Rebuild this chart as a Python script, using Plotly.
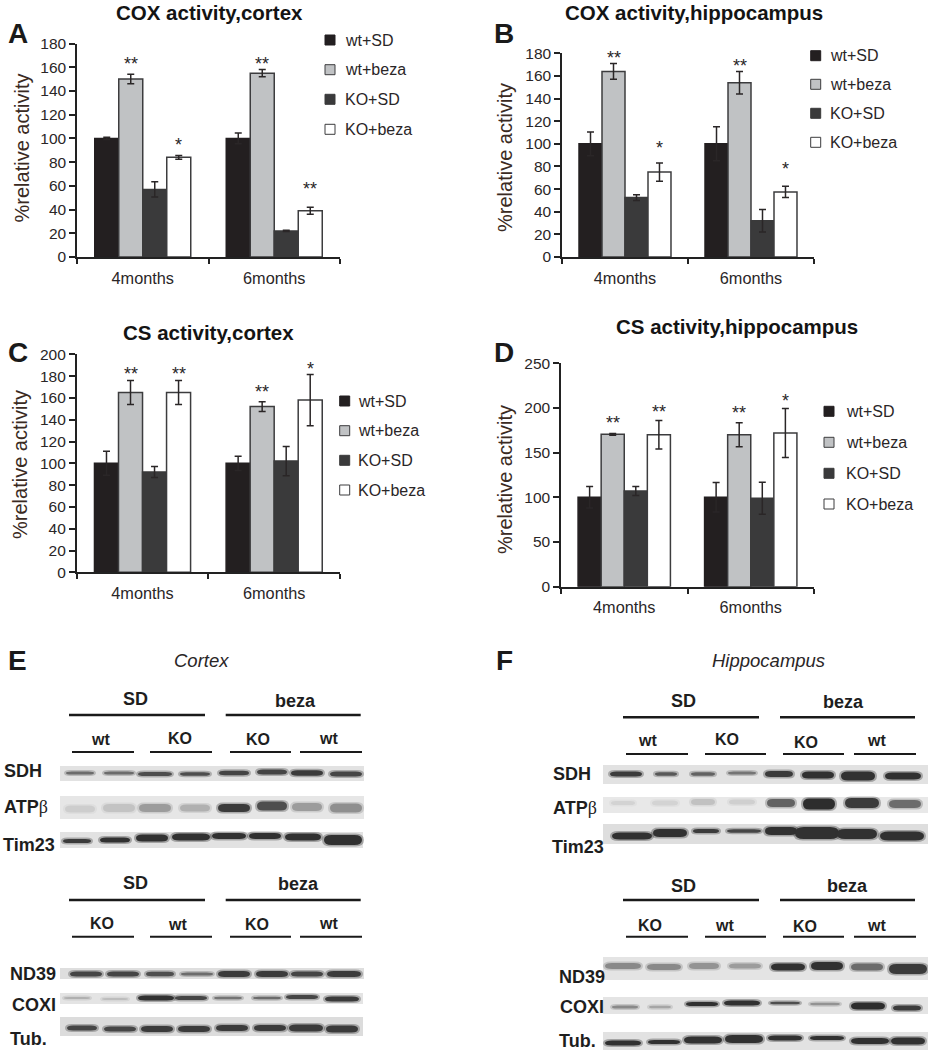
import plotly.graph_objects as go

W, H = 928, 1050
FONT = 'Liberation Sans'
INK = '#2a2627'

# bar data
groups = ['4months', '6months']
series = ['wt+SD', 'wt+beza', 'KO+SD', 'KO+beza']
fills = ['#231f20', '#c0c2c4', '#3a3a3b', '#ffffff']
edges = ['#231f20', '#3c3c3e', '#3a3a3b', '#3c3c3e']

a_vals = [[100, 100], [150, 155], [57, 22], [84, 39]]
a_errs = [[1, 4.5], [4, 3], [6.5, 0.5], [1.5, 3]]
a_stars = [['', ''], ['**', '**'], ['', ''], ['*', '**']]
a_star_y = [[0, 0], [166, 166], [0, 0], [98, 60.5]]

b_vals = [[100, 100], [164, 154], [52.5, 32], [75, 57.5]]
b_errs = [[10.5, 15], [7, 10], [2.5, 10], [8, 5]]
b_stars = [['', ''], ['**', '**'], ['', ''], ['*', '*']]
b_star_y = [[0, 0], [179, 172], [0, 0], [100, 81]]

c_vals = [[100, 100], [165, 152], [92, 102], [165, 158]]
c_errs = [[11, 6.5], [11, 4.5], [5, 13.5], [11, 23.5]]
c_stars = [['', ''], ['**', '**'], ['', ''], ['**', '*']]
c_star_y = [[0, 0], [185.6, 169], [0, 0], [185.6, 190]]

d_vals = [[100, 100], [170.5, 170], [107, 99], [170, 172]]
d_errs = [[12, 16.5], [1, 13.5], [5, 18], [16, 27.5]]
d_stars = [['', ''], ['**', '**'], ['', ''], ['**', '*']]
d_star_y = [[0, 0], [187.6, 199], [0, 0], [200, 212]]

# blot band readings, one row per antibody, one value per lane
e_dark = [[.6, .6, .75, .75, .8, .8, .85, .8],
          [.1, .15, .35, .25, .85, .75, .35, .42],
          [.85, .9, .9, .9, .9, .9, .9, .9],
          [.8, .8, .75, .6, .85, .85, .8, .85],
          [.25, .18, .9, .8, .55, .6, .8, .85],
          [.8, .8, .85, .85, .85, .85, .85, .85]]
e_thick = [[3, 3, 4, 3.5, 4.5, 5, 5.5, 5],
           [7, 8, 8, 7, 8, 9, 8, 9],
           [4, 5, 7, 7, 6, 6, 7, 10],
           [5, 5, 4.5, 3, 6, 6, 5, 6],
           [2, 2, 5, 4, 2.5, 2.5, 4, 5],
           [5, 5, 6, 6, 6, 6, 7, 7]]
e_half = [[14, 15, 17, 15, 15, 15, 16, 16],
          [15, 16, 16, 15, 16, 15, 15, 16],
          [14, 15, 16, 19, 17, 16, 18, 19],
          [16, 16, 14, 16, 16, 16, 16, 17],
          [13, 13, 18, 16, 14, 14, 16, 17],
          [15, 16, 16, 16, 16, 16, 17, 16]]
e_lane_x = [[80, 119, 155, 195, 234, 272, 307, 346],
            [80, 119, 155, 195, 234, 272, 307, 346],
            [77, 115, 152, 191, 229, 265, 303, 343],
            [86, 123, 160, 197, 234, 272, 307, 344],
            [77, 115, 156, 191, 228, 267, 302, 342],
            [82, 120, 157, 194, 232, 270, 306, 342]]
e_lane_y = [[773, 773, 774, 774, 773, 772, 773, 774],
            [809, 808, 808, 808, 808, 806, 807, 808],
            [841, 840, 838, 837, 836, 836, 837, 840],
            [974, 974, 974, 974, 974, 974, 974, 974],
            [998, 999, 998, 998, 998, 998, 997, 999],
            [1028, 1029, 1029, 1029, 1028, 1028, 1028, 1029]]
e_strips = [[60, 364, 766, 781, '#e2e2e2'], [60, 364, 796, 819, '#e6e6e6'], [60, 363, 832, 848, '#e2e2e2'],
            [60, 364, 968, 979, '#dedede'], [60, 363, 993, 1004, '#e4e4e4'], [60, 363, 1017, 1036, '#dcdcdc']]

f_dark = [[.85, .7, .65, .55, .85, .9, .9, .9],
          [.07, .07, .16, .09, .65, .92, .85, .6],
          [.9, .9, .85, .8, .9, .9, .9, .9],
          [.45, .45, .4, .35, .9, .9, .6, .85],
          [.45, .3, .9, .9, .75, .4, .92, .85],
          [.9, .9, .9, .9, .9, .9, .9, .9]]
f_thick = [[5, 3.5, 3.5, 3, 6, 7, 9, 7],
           [4, 5, 6, 5, 8, 11, 10, 8],
           [7, 8, 4, 3.5, 8, 12, 10, 9],
           [6, 6, 6, 5, 7, 8, 7, 10],
           [3, 2.5, 4, 5, 2.5, 2.5, 7, 5],
           [5, 4, 7, 8, 5, 4, 6, 7]]
f_half = [[16, 11, 12, 14, 14, 16, 17, 18],
          [12, 13, 12, 13, 14, 16, 17, 16],
          [20, 17, 13, 17, 16, 22, 20, 22],
          [18, 17, 15, 16, 17, 16, 16, 19],
          [13, 11, 16, 18, 15, 15, 17, 14],
          [18, 16, 19, 19, 17, 17, 19, 17]]
f_lane_x = [[626, 666, 703, 742, 779, 818, 858, 903],
            [623, 665, 703, 742, 781, 819, 862, 905],
            [632, 670, 706, 744, 781, 817, 857, 902],
            [623, 664, 704, 745, 788, 827, 867, 908],
            [625, 660, 702, 742, 785, 825, 868, 907],
            [623, 664, 703, 744, 785, 827, 870, 908]]
f_lane_y = [[774, 774, 774, 773, 774, 775, 776, 776],
            [803, 803, 802, 802, 803, 804, 803, 804],
            [836, 833, 831, 831, 831, 833, 834, 836],
            [966, 967, 966, 966, 967, 966, 967, 969],
            [1007, 1007, 1004, 1003, 1003, 1004, 1006, 1008],
            [1043, 1042, 1040, 1039, 1038, 1038, 1041, 1041]]
f_strips = [[603, 928, 765, 784, '#e2e2e2'], [603, 928, 797, 813, '#e8e8e8'], [603, 928, 824, 844, '#dedede'],
            [603, 928, 957, 980, '#e4e4e4'], [603, 928, 997, 1014, '#e4e4e4'], [603, 928, 1032, 1050, '#e2e2e2']]

# panel frames in page pixels: axis left, right, top, bottom
panels = [
    dict(vals=a_vals, errs=a_errs, stars=a_stars, star_y=a_star_y, frame=(77, 340, 43.5, 257), ymax=180, dtick=20,
         title='COX activity,cortex', title_xy=(209.5, 12), letter='A', letter_xy=(7, 33), ytitle_xy=(21, 148.5),
         leg_x=325, leg_text=344, leg_y=[40, 69.7, 99.3, 129.3]),
    dict(vals=b_vals, errs=b_errs, stars=b_stars, star_y=b_star_y, frame=(562, 814, 53.3, 257), ymax=180, dtick=20,
         title='COX activity,hippocampus', title_xy=(694, 12), letter='B', letter_xy=(493, 33), ytitle_xy=(505, 158),
         leg_x=810.7, leg_text=829, leg_y=[55.7, 84.3, 113.3, 142.3]),
    dict(vals=c_vals, errs=c_errs, stars=c_stars, star_y=c_star_y, frame=(76.7, 340, 354.3, 572.3), ymax=200, dtick=20,
         title='CS activity,cortex', title_xy=(208, 332), letter='C', letter_xy=(7, 352), ytitle_xy=(20, 465),
         leg_x=339.7, leg_text=357, leg_y=[401, 430.7, 460.3, 490]),
    dict(vals=d_vals, errs=d_errs, stars=d_stars, star_y=d_star_y, frame=(561, 814, 363.3, 586.7), ymax=250, dtick=50,
         title='CS activity,hippocampus', title_xy=(737, 326), letter='D', letter_xy=(493, 352), ytitle_xy=(505, 480),
         leg_x=824, leg_text=845, leg_y=[411.3, 442.3, 473.3, 504]),
]

fig = go.Figure()
layout = dict(
    width=W, height=H, margin=dict(l=0, r=0, t=0, b=0, pad=0, autoexpand=False), autosize=False,
    paper_bgcolor='white', plot_bgcolor='rgba(0,0,0,0)', showlegend=False,
    barmode='group', bargap=0.27, bargroupgap=0,
    font=dict(family=FONT, color=INK),
)
annotations = []
shapes = []


def text(x, y, s, size, bold=False, italic=False, anchor='center', color=INK, angle=0):
    if bold:
        s = f'<b>{s}</b>'
    if italic:
        s = f'<i>{s}</i>'
    annotations.append(dict(xref='x5', yref='y5', x=x, y=y, text=s, showarrow=False, xanchor=anchor, yanchor='middle',
                            font=dict(family=FONT, size=size, color=color), textangle=angle, borderpad=0))


def line(x0, x1, y, width):
    shapes.append(dict(type='line', xref='x5', yref='y5', x0=x0, x1=x1, y0=y, y1=y,
                       line=dict(color='#1a1a1a', width=width)))


for n, p in enumerate(panels):
    ax = n + 1
    x0, x1, y0, y1 = p['frame']
    for i, name in enumerate(series):
        fig.add_trace(go.Bar(
            x=[0, 1], y=p['vals'][i], name=name, xaxis=f'x{ax}', yaxis=f'y{ax}',
            offsetgroup=str(i),
            marker=dict(color=fills[i], line=dict(color=edges[i], width=1.5)),
            error_y=dict(type='data', array=p['errs'][i], color='#2a2627', thickness=1.5, width=3.5),
        ))
        # significance stars over the bars
        for g in range(2):
            if p['stars'][i][g]:
                annotations.append(dict(xref=f'x{ax}', yref=f'y{ax}', x=g + (i - 1.5) * 0.1825, y=p['star_y'][i][g],
                                        text=p['stars'][i][g], showarrow=False, yanchor='middle', yshift=-4,
                                        font=dict(family=FONT, size=18, color=INK)))
    layout[f'xaxis{ax}'] = dict(
        domain=[x0 / W, x1 / W], range=[-0.5, 1.5], anchor=f'y{ax}', showgrid=False, zeroline=False,
        tickvals=[0, 1], ticktext=groups, ticks='', ticklabelstandoff=5,
        tickfont=dict(family=FONT, size=16.3, color=INK), showline=True, linecolor='#222', linewidth=2,
        minor=dict(tickvals=[-0.5, 0.5, 1.5], ticks='outside', ticklen=5, tickwidth=1.5, tickcolor='#222'),
    )
    layout[f'yaxis{ax}'] = dict(
        domain=[1 - y1 / H, 1 - y0 / H], range=[0, p['ymax']], dtick=p['dtick'], anchor=f'x{ax}', showgrid=False,
        zeroline=False, ticks='outside', ticklen=6, tickwidth=1.5, tickcolor='#222', showline=True, linecolor='#222',
        linewidth=1.5, tickfont=dict(family=FONT, size=15.5, color=INK),
    )
    text(*p['title_xy'], p['title'], 20.5, bold=True, color='#141414')
    text(*p['letter_xy'], p['letter'], 28, bold=True, anchor='left', color='#1a1a1a')
    text(*p['ytitle_xy'], '%relative activity', 20, angle=-90, color='#3a2a22')
    # hand placed key, the page has one per panel
    for i, name in enumerate(series):
        ly = p['leg_y'][i]
        shapes.append(dict(type='rect', xref='x5', yref='y5', x0=p['leg_x'], x1=p['leg_x'] + 10, y0=ly - 5, y1=ly + 5,
                           fillcolor=fills[i], line=dict(color=edges[i], width=1)))
        text(p['leg_text'], ly, name, 16, anchor='left')


def band_path(cx, cy, hw, ht):
    # flat-sided band with tapered ends, ellipses looked too pointed
    a, b = cx - hw, cx + hw
    c, d = cx - hw * 0.6, cx + hw * 0.6
    t, u = cy - ht, cy + ht
    return f'M {a} {cy} Q {a} {t} {c} {t} L {d} {t} Q {b} {t} {b} {cy} Q {b} {u} {d} {u} L {c} {u} Q {a} {u} {a} {cy} Z'


def draw_blot(strips, lane_x, lane_y, half, thick, dark):
    for s, strip in enumerate(strips):
        shapes.append(dict(type='rect', xref='x5', yref='y5', x0=strip[0], x1=strip[1], y0=strip[2], y1=strip[3],
                           fillcolor=strip[4], line=dict(width=0), layer='above'))
        for k in range(8):
            v = int(225 - dark[s][k] * 195)
            col = f'rgb({v},{v},{v})'
            cx, cy, hw, ht = lane_x[s][k], lane_y[s][k], half[s][k], thick[s][k] / 2
            # soft halo first, then the band body
            shapes.append(dict(type='path', xref='x5', yref='y5', path=band_path(cx, cy, hw + 2, ht + 1.5),
                               fillcolor=col, opacity=0.35, line=dict(width=0)))
            shapes.append(dict(type='path', xref='x5', yref='y5', path=band_path(cx, cy, hw, ht),
                               fillcolor=col, line=dict(width=0)))


draw_blot(e_strips, e_lane_x, e_lane_y, e_half, e_thick, e_dark)
draw_blot(f_strips, f_lane_x, f_lane_y, f_half, f_thick, f_dark)

# blot labels and headers
BETA = "ATP<span style=\"font-family:'Liberation Serif';font-weight:normal\">β</span>"
text(7, 660, 'E', 28, bold=True, anchor='left', color='#1a1a1a')
text(495, 660, 'F', 28, bold=True, anchor='left', color='#1a1a1a')
text(201.7, 660, 'Cortex', 18.5, italic=True)
text(768, 660, 'Hippocampus', 18.5, italic=True)

for x, y, s in [(3, 771, 'SDH'), (3, 807, BETA), (2, 845, 'Tim23'), (9, 974, 'ND39'), (11, 1005, 'COXI'), (9, 1039, 'Tub.'),
                (552, 774, 'SDH'), (552, 808, BETA), (551, 847, 'Tim23'), (558, 977, 'ND39'), (559, 1007, 'COXI'), (558, 1041, 'Tub.')]:
    text(x, y, s, 18, bold=True, anchor='left', color='#1e1e1e')

for x, y, s in [(135.7, 699, 'SD'), (295, 701, 'beza'), (135.7, 883, 'SD'), (298, 884, 'beza'),
                (683.7, 701, 'SD'), (843, 702, 'beza'), (683.7, 886, 'SD'), (847, 886, 'beza')]:
    text(x, y, s, 18, bold=True, color='#1e1e1e')
for x, y, s in [(100, 739, 'wt'), (180, 738, 'KO'), (258, 739, 'KO'), (328, 738, 'wt'),
                (102, 923, 'KO'), (177, 924, 'wt'), (257, 924, 'KO'), (328, 923, 'wt'),
                (647, 740, 'wt'), (727, 739, 'KO'), (806, 742, 'KO'), (876, 740, 'wt'),
                (650, 925, 'KO'), (724, 925, 'wt'), (805, 926, 'KO'), (876, 925, 'wt')]:
    text(x, y, s, 16, bold=True, color='#1e1e1e')

for a, b, y in [(69, 205, 715), (225.7, 360.7, 715), (69, 205, 900), (225.7, 360.7, 900),
                (623, 759, 717.3), (780, 915, 717.3), (623, 759, 900), (780, 915, 900)]:
    line(a, b, y, 2.5)
for y, spans in [(752, [(72, 134), (150, 212), (230, 291), (300, 362)]),
                 (936.7, [(72, 134), (150, 212), (230, 291), (300, 362)]),
                 (754, [(626, 688), (705, 766), (783, 844), (854, 916)]),
                 (936.7, [(626, 688), (705, 766), (783, 844), (854, 916)])]:
    for a, b in spans:
        line(a, b, y, 2)

# page-pixel overlay for the text, keys and blots
fig.add_trace(go.Scatter(x=[0], y=[0], mode='none', xaxis='x5', yaxis='y5', hoverinfo='skip'))
layout['xaxis5'] = dict(domain=[0, 1], range=[0, W], anchor='y5', visible=False, fixedrange=True)
layout['yaxis5'] = dict(domain=[0, 1], range=[H, 0], anchor='x5', visible=False, fixedrange=True)
layout['annotations'] = annotations
layout['shapes'] = shapes
fig.update_layout(**layout)

fig.write_html("out.html", config=dict(displayModeBar=False), post_script="document.body.style.margin='0';")
